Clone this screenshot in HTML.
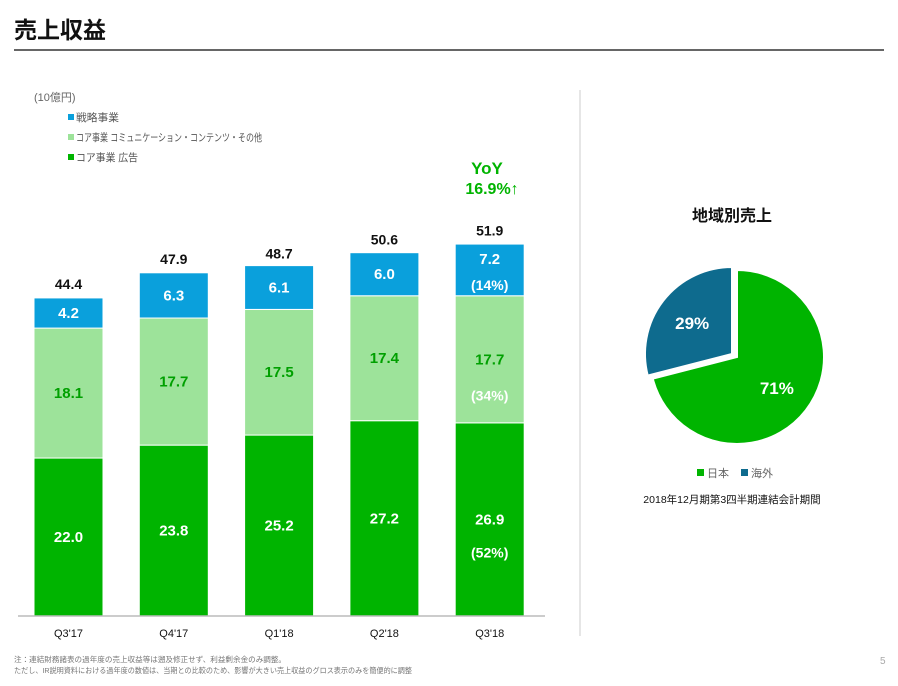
<!DOCTYPE html>
<html><head><meta charset="utf-8"><style>
body{margin:0;width:898px;height:681px;background:#fff;overflow:hidden;font-family:"Liberation Sans","Noto Sans CJK JP",sans-serif;}
svg text{font-family:"Liberation Sans","Noto Sans CJK JP",sans-serif;}
</style></head><body>
<svg id="c" width="898" height="681" xmlns="http://www.w3.org/2000/svg">
<text x="14" y="38" font-size="23" font-weight="bold" fill="#111">売上収益</text>
<line x1="14" y1="50" x2="884" y2="50" stroke="#333" stroke-width="1.5"/>
<line x1="580" y1="90" x2="580" y2="636" stroke="#ccc" stroke-width="1"/>
<text x="34" y="101" font-size="11" fill="#666">(10億円)</text>
<g>
<rect x="68" y="114" width="6" height="6" fill="#0aa0dc"/>
<text x="76" y="121" font-size="10.5" fill="#555" textLength="43" lengthAdjust="spacingAndGlyphs">戦略事業</text>
<rect x="68" y="134" width="6" height="6" fill="#9de39a"/>
<text x="76" y="141" font-size="10.5" fill="#555" textLength="186" lengthAdjust="spacingAndGlyphs">コア事業 コミュニケーション・コンテンツ・その他</text>
<rect x="68" y="154" width="6" height="6" fill="#00b400"/>
<text x="76" y="161" font-size="10.5" fill="#555" textLength="62" lengthAdjust="spacingAndGlyphs">コア事業 広告</text>
</g>
<g id="bars"></g>
<line x1="18" y1="616" x2="545" y2="616" stroke="#bbb" stroke-width="1.5"/>
<text x="487" y="174" font-size="17" font-weight="bold" fill="#00b400" text-anchor="middle">YoY</text>
<text x="492" y="194" font-size="16" font-weight="bold" fill="#00b400" text-anchor="middle">16.9%↑</text>
<g id="pie"></g>
<text x="732" y="221" font-size="16" font-weight="bold" fill="#111" text-anchor="middle">地域別売上</text>
<rect x="697" y="469" width="7" height="7" fill="#00b400"/>
<text x="707" y="477" font-size="11" fill="#666">日本</text>
<rect x="741" y="469" width="7" height="7" fill="#0e6b8e"/>
<text x="751" y="477" font-size="11" fill="#666">海外</text>
<text x="732" y="503" font-size="10.5" fill="#111" text-anchor="middle">2018年12月期第3四半期連結会計期間</text>
<text x="14" y="662" font-size="7.5" fill="#777" textLength="272" lengthAdjust="spacingAndGlyphs">注：連結財務諸表の過年度の売上収益等は遡及修正せず、利益剰余金のみ調整。</text>
<text x="14" y="673" font-size="7.5" fill="#777" textLength="398" lengthAdjust="spacingAndGlyphs">ただし、IR説明資料における過年度の数値は、当期との比較のため、影響が大きい売上収益のグロス表示のみを簡便的に調整</text>
<text x="880" y="664" font-size="10" fill="#aaa">5</text>
</svg>
<script>
const categories=["Q3'17","Q4'17","Q1'18","Q2'18","Q3'18"];
const ads=[22.0,23.8,25.2,27.2,26.9];
const comm=[18.1,17.7,17.5,17.4,17.7];
const strategic=[4.2,6.3,6.1,6.0,7.2];
const totals=[44.4,47.9,48.7,50.6,51.9];
const pieLabels=["日本","海外"];
const pieValues=[71,29];
const NS="http://www.w3.org/2000/svg";
const base=616,ppu=7.18,x0=34,step=105.3,bw=69;
const y=v=>base-v*ppu;
const xb=i=>x0+i*step;
function mk(tag,attrs,parent){const e=document.createElementNS(NS,tag);for(const k in attrs)e.setAttribute(k,attrs[k]);parent.appendChild(e);return e;}
const g=document.getElementById('bars');
categories.forEach((c,i)=>{
  const segs=[[ads[i],'#00b400','ads'],[comm[i],'#9de39a','comm'],[strategic[i],'#0aa0dc','strategic']];
  let cum=0;
  segs.forEach(([v,col,nm],k)=>{
    const r=mk('rect',{x:xb(i),y:y(cum+v),width:bw,height:v*ppu,fill:col,stroke:'#fff','stroke-width':1},g);
    
    
    const last=i===categories.length-1;
    let ty=y(cum+v/2)+5;
    if(last&&k==2) ty=y(cum+v/2)-6;
    const t=mk('text',{x:xb(i)+bw/2,y:ty,'font-size':15,'font-weight':'bold',fill:k==1?'#00a000':'#fff','text-anchor':'middle'},g);
    t.textContent=v.toFixed(1);
    
    
    if(last){
      const p=Math.round(v/totals[i]*100);
      const t2=mk('text',{x:xb(i)+bw/2,y:ty+(k==2?26:(k==1?36:33)),'font-size':14,'font-weight':'bold',fill:'#fff','text-anchor':'middle'},g);
      t2.textContent='('+p+'%)';
      
      
    }
    cum+=v;
  });
  const tt=mk('text',{x:xb(i)+bw/2,y:y(totals[i])-8,'font-size':14,'font-weight':'bold',fill:'#111','text-anchor':'middle'},g);
  tt.textContent=totals[i].toFixed(1);
  
  
  const cl=mk('text',{x:xb(i)+bw/2,y:637,'font-size':11,fill:'#111','text-anchor':'middle'},g);
  cl.textContent=c;
  
  
});
const pg=document.getElementById('pie');
const sum=pieValues.reduce((a,b)=>a+b,0);
const cols=['#00b400','#0e6b8e'];
const centers=[[737,357],[732,354]];
let a0=0;
pieValues.forEach((v,i)=>{
  const a1=a0+v/sum*2*Math.PI,R=87,[cx,cy]=centers[i];
  const p=(a)=>[cx+R*Math.sin(a),cy-R*Math.cos(a)];
  const [sx,sy]=p(a0),[ex,ey]=p(a1);
  const large=(a1-a0)>Math.PI?1:0;
  const path=mk('path',{d:`M${cx},${cy}L${sx},${sy}A${R},${R} 0 ${large} 1 ${ex},${ey}Z`,fill:cols[i],stroke:'#fff','stroke-width':2},pg);
  
  
  const m=(a0+a1)/2,lr=R*0.58;
  const t=mk('text',{x:cx+lr*Math.sin(m),y:cy-lr*Math.cos(m)+6,'font-size':17,'font-weight':'bold',fill:'#fff','text-anchor':'middle'},pg);
  t.textContent=v+'%';
  
  
  a0=a1;
});
</script>
</body></html>
